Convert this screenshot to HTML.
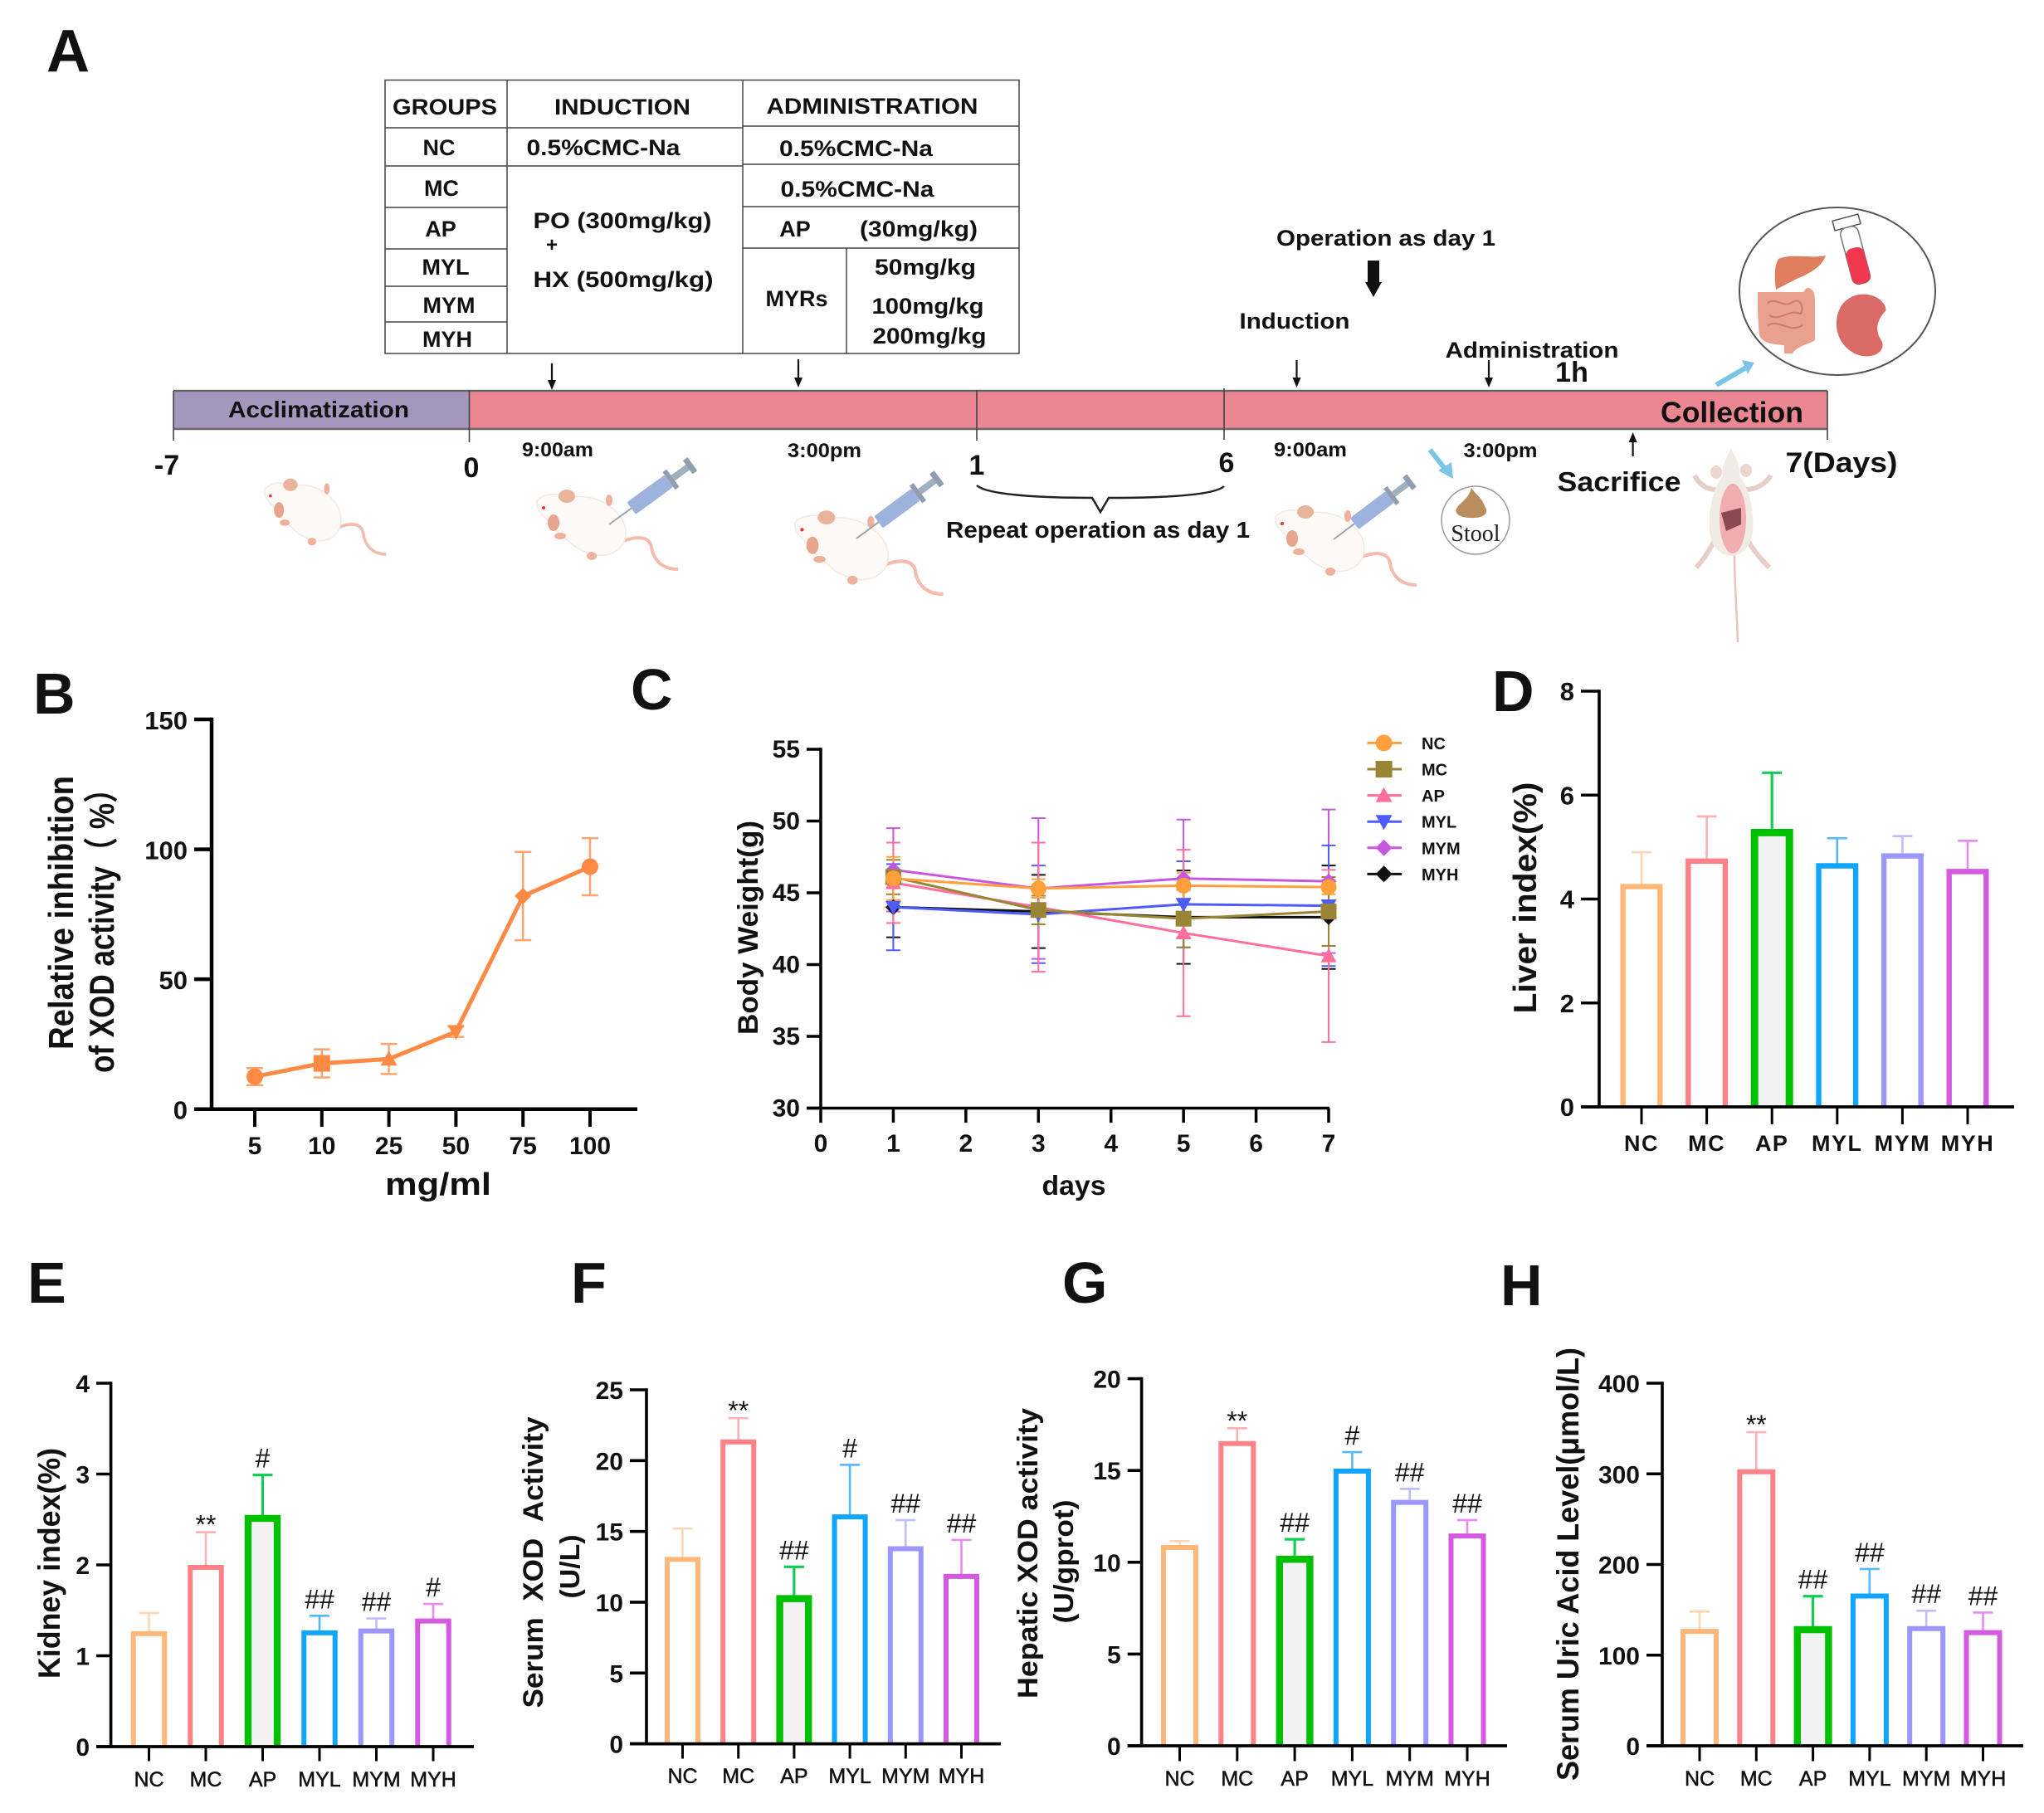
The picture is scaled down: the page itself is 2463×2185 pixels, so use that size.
<!DOCTYPE html>
<html lang="en">
<head>
<meta charset="utf-8">
<title>XOD inhibition study figure</title>
<style>
html,body{margin:0;padding:0;background:#fff;}
svg{display:block;font-family:"Liberation Sans","Noto Sans CJK SC",sans-serif;}
.b{font-weight:700;fill:#111;}
.m{text-anchor:middle;}
</style>
</head>
<body>
<svg id="figure" xmlns="http://www.w3.org/2000/svg" width="2463" height="2185" viewBox="0 0 2463 2185">
<rect width="2463" height="2185" fill="#fff"/>
<defs>
<g id="mouse-shape">
<path d="M104,48 C120,42 135,42 138,55 C140,70 150,82 170,82" fill="none" stroke="#f4bcae" stroke-width="4"/>
<path d="M0,0 C8,-10 25,-10 40,-5 C60,-8 85,-2 100,18 C112,35 108,55 90,63 C72,70 50,60 38,48 C25,40 18,28 12,22 C5,15 -2,8 0,0 Z" fill="#fdf9f6" stroke="#f3e9e3" stroke-width="1.5"/>
<ellipse cx="36" cy="-6" rx="10" ry="8" fill="#eab39b"/>
<ellipse cx="20" cy="26" rx="7" ry="10" fill="#e8a58e"/>
<ellipse cx="87" cy="-1" rx="4" ry="7" fill="#efb09c"/>
<ellipse cx="28" cy="42" rx="7" ry="4" fill="#efb09c"/>
<ellipse cx="66" cy="66" rx="6" ry="5" fill="#efb09c"/>
<circle cx="8" cy="8" r="2" fill="#e33"/>
</g>
<g id="syringe-shape">
<line x1="0" y1="0" x2="34" y2="0" stroke="#9aa4ad" stroke-width="2"/>
<rect x="33" y="-9" width="56" height="18" rx="2" fill="#9db2dd"/>
<rect x="89" y="-13" width="6" height="26" fill="#8f9fb0"/>
<rect x="95" y="-4" width="24" height="8" fill="#a2afbd"/>
<rect x="117" y="-10" width="7" height="20" fill="#8f9fb0"/>
</g>
</defs>

<!-- panel letters -->
<text class="b" x="56" y="86" font-size="72">A</text>
<text class="b" x="40" y="860" font-size="70">B</text>
<text class="b" x="760" y="855" font-size="70">C</text>
<text class="b" x="1798" y="857" font-size="70">D</text>
<text class="b" x="33" y="1570" font-size="70">E</text>
<text class="b" x="688" y="1570" font-size="70">F</text>
<text class="b" x="1280" y="1570" font-size="70">G</text>
<text class="b" x="1808" y="1573" font-size="70">H</text>

<!-- panel A: table -->
<g stroke="#444" stroke-width="1.5" fill="none">
<rect x="464" y="96.5" width="764" height="329.5"/>
<line x1="611" y1="96.5" x2="611" y2="426"/>
<line x1="895" y1="96.5" x2="895" y2="426"/>
<line x1="1020" y1="299" x2="1020" y2="426"/>
<line x1="464" y1="154" x2="895" y2="154"/>
<line x1="895" y1="152" x2="1228" y2="152"/>
<line x1="464" y1="200" x2="895" y2="200"/>
<line x1="895" y1="198" x2="1228" y2="198"/>
<line x1="464" y1="250" x2="611" y2="250"/>
<line x1="464" y1="300" x2="611" y2="300"/>
<line x1="464" y1="345" x2="611" y2="345"/>
<line x1="464" y1="388" x2="611" y2="388"/>
<line x1="895" y1="249" x2="1228" y2="249"/>
<line x1="895" y1="299" x2="1228" y2="299"/>
</g>
<g class="b" font-size="27" text-anchor="middle">
<text x="536" y="138" textLength="126" lengthAdjust="spacingAndGlyphs">GROUPS</text>
<text x="750" y="138" textLength="164" lengthAdjust="spacingAndGlyphs">INDUCTION</text>
<text x="1051" y="137" textLength="255" lengthAdjust="spacingAndGlyphs">ADMINISTRATION</text>
<text x="529" y="187">NC</text>
<text x="532" y="236">MC</text>
<text x="531" y="285">AP</text>
<text x="537" y="331">MYL</text>
<text x="541" y="377">MYM</text>
<text x="539" y="418">MYH</text>
<text x="727" y="187" textLength="185" lengthAdjust="spacingAndGlyphs">0.5%CMC-Na</text>
<text x="1031.5" y="188" textLength="185" lengthAdjust="spacingAndGlyphs">0.5%CMC-Na</text>
<text x="1033" y="237" textLength="185" lengthAdjust="spacingAndGlyphs">0.5%CMC-Na</text>
<text x="750" y="275" textLength="215" lengthAdjust="spacingAndGlyphs">PO  (300mg/kg)</text>
<text x="665" y="303" font-size="24">+</text>
<text x="751" y="346" textLength="217" lengthAdjust="spacingAndGlyphs">HX  (500mg/kg)</text>
<text x="958" y="285">AP</text>
<text x="1107" y="285" textLength="142" lengthAdjust="spacingAndGlyphs">(30mg/kg)</text>
<text x="960" y="369">MYRs</text>
<text x="1115" y="331" textLength="122" lengthAdjust="spacingAndGlyphs">50mg/kg</text>
<text x="1118" y="378" textLength="135" lengthAdjust="spacingAndGlyphs">100mg/kg</text>
<text x="1120" y="414" textLength="137" lengthAdjust="spacingAndGlyphs">200mg/kg</text>
</g>

<!-- panel A: timeline -->
<g>
<rect x="209" y="471" width="356.5" height="46" fill="#a596bd"/>
<rect x="565.5" y="471" width="1636.5" height="46" fill="#ea8792"/>
<path d="M209,471 H2202 M209,517 H2202" stroke="#666" stroke-width="2.5" fill="none"/>
<path d="M209,471 V531 M565.5,471 V533 M1177,470 V531 M1475,468 V530 M2202,471 V530" stroke="#444" stroke-width="1.6" fill="none"/>
</g>
<g class="b" font-size="28" text-anchor="middle">
<text x="384" y="503" textLength="218" lengthAdjust="spacingAndGlyphs">Acclimatization</text>
<text x="2087" y="509" font-size="35" textLength="172" lengthAdjust="spacingAndGlyphs">Collection</text>
<text x="201" y="572" font-size="34">-7</text>
<text x="568" y="575" font-size="34">0</text>
<text x="1177" y="572" font-size="34">1</text>
<text x="1478" y="569" font-size="34">6</text>
<text x="2219" y="569" font-size="34" textLength="135" lengthAdjust="spacingAndGlyphs">7(Days)</text>
<text x="672" y="550" font-size="24" textLength="86" lengthAdjust="spacingAndGlyphs">9:00am</text>
<text x="993.5" y="551" font-size="24" textLength="89" lengthAdjust="spacingAndGlyphs">3:00pm</text>
<text x="1579" y="550" font-size="24" textLength="88" lengthAdjust="spacingAndGlyphs">9:00am</text>
<text x="1808" y="551" font-size="24" textLength="89" lengthAdjust="spacingAndGlyphs">3:00pm</text>
<text x="1323" y="648" font-size="28" textLength="366" lengthAdjust="spacingAndGlyphs">Repeat operation as day 1</text>
<text x="1670" y="296" font-size="27" textLength="264" lengthAdjust="spacingAndGlyphs">Operation as day 1</text>
<text x="1560" y="396" font-size="27" textLength="133" lengthAdjust="spacingAndGlyphs">Induction</text>
<text x="1846" y="431" font-size="27" textLength="209" lengthAdjust="spacingAndGlyphs">Administration</text>
<text x="1894" y="460" font-size="34">1h</text>
<text x="1951" y="592" font-size="33" textLength="149" lengthAdjust="spacingAndGlyphs">Sacrifice</text>
</g>
<path d="M1177,585 C1190,597 1260,600 1316,600 L1326,617 L1336,600 C1390,600 1462,598 1475,586" fill="none" stroke="#222" stroke-width="2.5"/>
<g stroke="#111" stroke-width="2.2" fill="#111">
<line x1="665" y1="438" x2="665" y2="462"/><polygon points="660,458 670,458 665,470" stroke="none"/>
<line x1="962" y1="433" x2="962" y2="459"/><polygon points="957,455 967,455 962,467" stroke="none"/>
<line x1="1562.5" y1="434" x2="1562.5" y2="459"/><polygon points="1557.5,455 1567.5,455 1562.5,467" stroke="none"/>
<line x1="1794" y1="434" x2="1794" y2="459"/><polygon points="1789,455 1799,455 1794,467" stroke="none"/>
<line x1="1967.6" y1="530" x2="1967.6" y2="550"/><polygon points="1962.6,533 1972.6,533 1967.6,521" stroke="none"/>
<polygon points="1648,314 1662,314 1662,340 1665,340 1655,358 1645,340 1648,340" stroke="none"/>
</g>
<g stroke="#7cc5e6" stroke-width="6" fill="#7cc5e6">
<line x1="1723" y1="542" x2="1742" y2="566"/><polygon points="1733,567 1749,557 1751,577" stroke="none"/>
<line x1="2068" y1="464" x2="2104" y2="443"/><polygon points="2099,434 2114,437 2106,451" stroke="none"/>
</g>

<!-- panel A: illustrations -->
<use href="#mouse-shape" transform="translate(319,590) scale(.86,.95)"/>
<use href="#mouse-shape" transform="translate(647,604)"/>
<use href="#syringe-shape" transform="translate(734,632) rotate(-36)"/>
<use href="#mouse-shape" transform="translate(958,630) scale(1.05)"/>
<use href="#syringe-shape" transform="translate(1032,649) rotate(-36.5)"/>
<use href="#mouse-shape" transform="translate(1537,623)"/>
<use href="#syringe-shape" transform="translate(1607,650) rotate(-37) scale(.95)"/>
<g>
<circle cx="1778" cy="627" r="41" fill="#fff" stroke="#999" stroke-width="1.5"/>
<path d="M1773,588 C1778,596 1786,600 1789,610 C1796,620 1785,625 1772,624 C1758,624 1750,618 1757,610 C1762,604 1770,600 1773,588 Z" fill="#bb8d5e"/>
<text x="1778" y="652" font-size="28" text-anchor="middle" fill="#222" style="font-family:'Liberation Serif',serif">Stool</text>
</g>
<g>
<path d="M2090,668 C2090,700 2093,740 2094,774" fill="none" stroke="#e8c4bc" stroke-width="2.5"/>
<path d="M2068,648 C2060,662 2055,672 2044,684 M2104,648 C2112,662 2120,672 2132,684 M2068,590 C2058,590 2048,585 2042,573 M2104,590 C2114,590 2126,585 2134,573" stroke="#e6cfc8" stroke-width="6" fill="none"/>
<path d="M2086,541 C2092,552 2098,562 2096,574 C2106,585 2114,610 2112,640 C2110,660 2098,670 2086,670 C2074,670 2062,660 2060,640 C2058,610 2066,585 2076,574 C2074,562 2080,552 2086,541 Z" fill="#f1ebe6"/>
<ellipse cx="2068" cy="569" rx="7" ry="8" fill="#eed5d0"/><ellipse cx="2104" cy="567" rx="7" ry="8" fill="#eed5d0"/>
<ellipse cx="2088" cy="625" rx="16" ry="42" fill="#f2adb0"/>
<path d="M2074,618 L2098,612 L2098,632 L2080,640 Z" fill="#8a4a52"/>
</g>
<g>
<ellipse cx="2214" cy="351" rx="118" ry="101" fill="#fff" stroke="#555" stroke-width="2"/>
<path d="M2143,312 C2160,305 2185,312 2200,308 C2195,322 2180,330 2165,336 L2140,349 C2138,335 2138,320 2143,312 Z" fill="#df7d5c"/>
<g transform="translate(2225,268) rotate(-15)">
<rect x="-16" y="-6" width="32" height="12" fill="#fff" stroke="#555" stroke-width="1.5"/>
<rect x="-11" y="6" width="22" height="70" rx="8" fill="#fff" stroke="#777" stroke-width="1.5"/>
<rect x="-11" y="32" width="22" height="44" rx="8" fill="#f2384f"/>
</g>
<path d="M2118,352 H2170 C2178,352 2172,347 2180,347 C2188,350 2187,360 2187,375 V410 C2180,415 2165,417 2160,426 H2150 V416 C2140,415 2124,415 2120,404 C2118,385 2118,370 2118,352 Z" fill="#e9a08e"/>
<path d="M2130,365 C2140,358 2150,372 2160,364 C2170,358 2174,372 2170,378 C2155,372 2145,388 2132,380 M2130,392 C2145,384 2155,402 2172,392" fill="none" stroke="#cf7a68" stroke-width="2"/>
<path d="M2240,355 C2262,352 2275,368 2272,375 C2262,385 2258,398 2268,412 C2272,425 2255,433 2240,428 C2222,422 2212,405 2213,388 C2214,370 2224,358 2240,355 Z" fill="#d96a66"/>
</g>

<!-- axis titles -->
<g class="b" text-anchor="middle">
<text transform="translate(88,1100) rotate(-90)" font-size="42" textLength="330" lengthAdjust="spacingAndGlyphs">Relative inhibition</text>
<text transform="translate(137,1113) rotate(-90)" font-size="42" textLength="360" lengthAdjust="spacingAndGlyphs">of XOD activity（ %）</text>
<text x="528" y="1440" font-size="38" textLength="128" lengthAdjust="spacingAndGlyphs">mg/ml</text>
<text transform="translate(913,1118) rotate(-90)" font-size="34" textLength="258" lengthAdjust="spacingAndGlyphs">Body Weight(g)</text>
<text x="1294" y="1440" font-size="33" textLength="77" lengthAdjust="spacingAndGlyphs">days</text>
<text transform="translate(1851,1082) rotate(-90)" font-size="39" textLength="279" lengthAdjust="spacingAndGlyphs">Liver index(%)</text>
<text transform="translate(72,1884) rotate(-90)" font-size="37" textLength="278" lengthAdjust="spacingAndGlyphs">Kidney index(%)</text>
<text transform="translate(654,1883) rotate(-90)" font-size="34" textLength="351" lengthAdjust="spacingAndGlyphs">Serum&#160;&#160;XOD&#160;&#160;Activity</text>
<text transform="translate(698,1888) rotate(-90)" font-size="33" textLength="77" lengthAdjust="spacingAndGlyphs">(U/L)</text>
<text transform="translate(1250,1872) rotate(-90)" font-size="34" textLength="350" lengthAdjust="spacingAndGlyphs">Hepatic XOD activity</text>
<text transform="translate(1293,1882) rotate(-90)" font-size="33" textLength="149" lengthAdjust="spacingAndGlyphs">(U/gprot)</text>
<text transform="translate(1902,1885) rotate(-90)" font-size="37" textLength="522" lengthAdjust="spacingAndGlyphs">Serum Uric Acid Level(μmol/L)</text>
</g>

<g id="charts"></g>
</svg>

<script>
// Panel B data
const inhibitionDoses = ['5', '10', '25', '50', '75', '100'];
const inhibitionValues = [12.5, 17.6, 19.3, 29.8, 82, 93.3];
const inhibitionErrors = [3.3, 5.4, 5.8, 2, 17, 11];
const inhibitionYTicks = [0, 50, 100, 150];

// Panel C data
const weightDays = [1, 3, 5, 7];
const weightXTicks = [0, 1, 2, 3, 4, 5, 6, 7];
const weightYTicks = [30, 35, 40, 45, 50, 55];
const weightGroups = ['NC', 'MC', 'AP', 'MYL', 'MYM', 'MYH'];
const weightNC = [46.0, 45.3, 45.5, 45.4];
const weightMC = [46.1, 43.8, 43.2, 43.7];
const weightAP = [45.7, 44.0, 42.2, 40.6];
const weightMYL = [44.0, 43.5, 44.2, 44.1];
const weightMYM = [46.6, 45.3, 46.0, 45.8];
const weightMYH = [44.0, 43.7, 43.3, 43.3];
const weightErrNC = [1.5, 0.65, 0.9, 0.5];
const weightErrMC = [1.2, 1.0, 2.0, 2.4];
const weightErrAP = [2.8, 4.5, 5.8, 6.0];
const weightErrMYL = [3.0, 3.4, 3.0, 4.2];
const weightErrMYM = [2.9, 4.9, 4.1, 5.0];
const weightErrMYH = [2.1, 2.55, 3.25, 3.6];

// Bar panel data
const barGroups = ['NC', 'MC', 'AP', 'MYL', 'MYM', 'MYH'];
const liverValues = [4.29, 4.78, 5.35, 4.69, 4.88, 4.58];
const liverErrors = [0.61, 0.81, 1.08, 0.48, 0.33, 0.54];
const liverYTicks = [0, 2, 4, 6, 8];
const liverMarks = ['', '', '', '', '', ''];
const kidneyValues = [1.27, 2.0, 2.55, 1.28, 1.30, 1.41];
const kidneyErrors = [0.20, 0.36, 0.44, 0.16, 0.11, 0.16];
const kidneyYTicks = [0, 1, 2, 3, 4];
const kidneyMarks = ['', '**', '#', '##', '##', '#'];
const serumXodValues = [13.2, 21.5, 10.5, 16.2, 13.95, 12.0];
const serumXodErrors = [2.0, 1.5, 2.0, 3.5, 1.85, 2.4];
const serumXodYTicks = [0, 5, 10, 15, 20, 25];
const serumXodMarks = ['', '**', '##', '#', '##', '##'];
const hepaticValues = [10.94, 16.6, 10.35, 15.1, 13.4, 11.57];
const hepaticErrors = [0.21, 0.7, 0.9, 0.9, 0.6, 0.73];
const hepaticYTicks = [0, 5, 10, 15, 20];
const hepaticMarks = ['', '**', '##', '#', '##', '##'];
const uricValues = [129, 305, 132, 168, 132, 127.6];
const uricErrors = [19, 41, 33, 27, 17, 19.4];
const uricYTicks = [0, 100, 200, 300, 400];
const uricMarks = ['', '**', '##', '##', '##', '##'];

const barColors = ['#ffb87a', '#ff8288', '#00c000', '#10a5ff', '#9b97ff', '#d45ae0'];
const barErrColors = ['#ffd6b4', '#ffb0b4', '#14cc55', '#55b8ff', '#c0bdff', '#e88af0'];

const SVGNS = 'http://www.w3.org/2000/svg';
const chartsRoot = document.getElementById('charts');

function svgEl(parent, tag, attrs) {
  const el = document.createElementNS(SVGNS, tag);
  for (const k in attrs) el.setAttribute(k, attrs[k]);
  parent.appendChild(el);
  return el;
}
function linear(d0, d1, r0, r1) {
  return v => r0 + (v - d0) * (r1 - r0) / (d1 - d0);
}
function marker(parent, shape, x, y, r, color) {
  let el;
  if (shape === 'circle') {
    el = svgEl(parent, 'circle', { cx: x, cy: y, r: r, fill: color });
  } else if (shape === 'square') {
    el = svgEl(parent, 'rect', { x: x - r, y: y - r, width: 2 * r, height: 2 * r, fill: color });
  } else if (shape === 'up') {
    el = svgEl(parent, 'polygon', { points: `${x - r},${y + r * .8} ${x + r},${y + r * .8} ${x},${y - r}`, fill: color });
  } else if (shape === 'down') {
    el = svgEl(parent, 'polygon', { points: `${x - r},${y - r * .8} ${x + r},${y - r * .8} ${x},${y + r}`, fill: color });
  } else {
    el = svgEl(parent, 'polygon', { points: `${x - r},${y} ${x},${y - r} ${x + r},${y} ${x},${y + r}`, fill: color });
  }
  
  
  return el;
}
function errorBar(parent, x, y0, y1, cap, color, width) {
  const g = svgEl(parent, 'path', {
    d: `M${x},${y0} V${y1} M${x - cap / 2},${y1} H${x + cap / 2}`,
    stroke: color, 'stroke-width': width, fill: 'none'
  });
  
  
  return g;
}
function drawYAxis(g, ticks, sy, axisX, tickLeft, baseY, size, width, dy) {
  const axis = svgEl(g, 'line', { x1: axisX, y1: sy(ticks[ticks.length - 1]) - width / 2, x2: axisX, y2: baseY + width / 2, stroke: '#000', 'stroke-width': width });
  
  
  ticks.forEach(t => {
    const tick = svgEl(g, 'line', { x1: tickLeft, y1: sy(t), x2: axisX, y2: sy(t), stroke: '#000', 'stroke-width': width });
    
    
    const lab = svgEl(g, 'text', { x: tickLeft - 8, y: sy(t) + dy, 'text-anchor': 'end', 'font-size': size, 'font-weight': 700, fill: '#111' });
    lab.textContent = t;
    
    
  });
}

function drawInhibition() {
  const g = svgEl(chartsRoot, 'g', {});
  
  
  const sy = linear(0, 150, 1336.7, 867);
  const sx = i => 307 + i * 80.8;
  const color = '#ff8a45';
  drawYAxis(g, inhibitionYTicks, sy, 255, 234, 1336.7, 31, 4.5, 12);
  const xAxis = svgEl(g, 'line', { x1: 234, y1: 1336.7, x2: 768, y2: 1336.7, stroke: '#000', 'stroke-width': 4.5 });
  
  
  inhibitionDoses.forEach((d, i) => {
    const tick = svgEl(g, 'line', { x1: sx(i), y1: 1336.7, x2: sx(i), y2: 1358, stroke: '#000', 'stroke-width': 4 });
    
    
    const lab = svgEl(g, 'text', { x: sx(i), y: 1391, 'text-anchor': 'middle', 'font-size': 30, 'font-weight': 700, fill: '#111' });
    lab.textContent = d;
    
    
  });
  inhibitionValues.forEach((v, i) => {
    errorBar(g, sx(i), sy(v - inhibitionErrors[i]), sy(v + inhibitionErrors[i]), 20, '#ffa46e', 2.5);
    const low = svgEl(g, 'line', { x1: sx(i) - 10, x2: sx(i) + 10, y1: sy(v - inhibitionErrors[i]), y2: sy(v - inhibitionErrors[i]), stroke: '#ffa46e', 'stroke-width': 2.5 });
    
    
  });
  const line = svgEl(g, 'polyline', {
    points: inhibitionValues.map((v, i) => sx(i) + ',' + sy(v)).join(' '),
    fill: 'none', stroke: color, 'stroke-width': 5
  });
  
  
  const shapes = ['circle', 'square', 'up', 'down', 'diamond', 'circle'];
  inhibitionValues.forEach((v, i) => marker(g, shapes[i], sx(i), sy(v), 10, color));
}

function drawWeight() {
  const g = svgEl(chartsRoot, 'g', {});
  
  
  const sy = linear(30, 55, 1335.5, 903);
  const sx = linear(0, 7, 989, 1601);
  drawYAxis(g, weightYTicks, sy, 989, 972, 1335.5, 30, 3.5, 10);
  const xAxis = svgEl(g, 'line', { x1: 972, y1: 1335.5, x2: 1602, y2: 1335.5, stroke: '#000', 'stroke-width': 3.5 });
  
  
  weightXTicks.forEach(t => {
    const tick = svgEl(g, 'line', { x1: sx(t), y1: 1335.5, x2: sx(t), y2: 1353, stroke: '#000', 'stroke-width': 3.5 });
    
    
    const lab = svgEl(g, 'text', { x: sx(t), y: 1388, 'text-anchor': 'middle', 'font-size': 30, 'font-weight': 700, fill: '#111' });
    lab.textContent = t;
    
    
  });
  const series = [weightNC, weightMC, weightAP, weightMYL, weightMYM, weightMYH];
  const errs = [weightErrNC, weightErrMC, weightErrAP, weightErrMYL, weightErrMYM, weightErrMYH];
  const colors = ['#ffa03c', '#9a8535', '#ff6f9c', '#4f5bff', '#c857e0', '#111111'];
  const shapes = ['circle', 'square', 'up', 'down', 'diamond', 'diamond'];
  for (let s = series.length - 1; s >= 0; s--) {
    series[s].forEach((v, i) => {
      const x = sx(weightDays[i]);
      errorBar(g, x, sy(v - errs[s][i]), sy(v + errs[s][i]), 17, colors[s], 2);
      const low = svgEl(g, 'line', { x1: x - 8.5, x2: x + 8.5, y1: sy(v - errs[s][i]), y2: sy(v - errs[s][i]), stroke: colors[s], 'stroke-width': 2 });
      
      
    });
  }
  for (let s = series.length - 1; s >= 0; s--) {
    const line = svgEl(g, 'polyline', {
      points: series[s].map((v, i) => sx(weightDays[i]) + ',' + sy(v)).join(' '),
      fill: 'none', stroke: colors[s], 'stroke-width': 3
    });
    
    
    series[s].forEach((v, i) => marker(g, shapes[s], sx(weightDays[i]), sy(v), 9.5, colors[s]));
  }
  const legendTop = 895.4, legendStep = 31.6;
  weightGroups.forEach((name, i) => {
    const y = legendTop + i * legendStep;
    const row = svgEl(g, 'g', {});
    
    
    svgEl(row, 'line', { x1: 1647.5, x2: 1689, y1: y, y2: y, stroke: colors[i], 'stroke-width': 3 });
    marker(row, shapes[i], 1667.6, y, 10, colors[i]);
    const lab = svgEl(row, 'text', { x: 1713, y: y + 7.5, 'font-size': 20, 'font-weight': 700, fill: '#111' });
    lab.textContent = name;
  });
}

function drawBarPanel(panelName, cfg, values, errors, ticks, marks) {
  const g = svgEl(chartsRoot, 'g', {});
  
  
  const sy = linear(ticks[0], ticks[ticks.length - 1], cfg.base, cfg.top);
  const sx = i => cfg.first + i * cfg.step;
  values.forEach((v, i) => {
    const sw = i === 2 ? cfg.stroke * 1.4 : cfg.stroke;
    const top = sy(v) + sw / 2;
    errorBar(g, sx(i), top, sy(v + errors[i]), 24, barErrColors[i], i === 2 ? 3.2 : 2.6);
    const bar = svgEl(g, 'path', {
      d: `M${sx(i) - cfg.width / 2 + sw / 2},${cfg.base} V${top} H${sx(i) + cfg.width / 2 - sw / 2} V${cfg.base}`,
      fill: i === 2 ? '#f2f2f2' : '#fff', stroke: barColors[i], 'stroke-width': sw
    });
    
    
    if (marks[i]) {
      const isStar = marks[i].charAt(0) === '*';
      const mark = svgEl(g, 'text', {
        x: sx(i), y: sy(v + errors[i]) + (isStar ? 2 : -9),
        'text-anchor': 'middle', 'font-size': 32, fill: '#111'
      });
      mark.textContent = marks[i];
      
      
    }
  });
  drawYAxis(g, ticks, sy, cfg.axisX, cfg.tickLeft, cfg.base, cfg.yFont, 3.6, 11);
  const xAxis = svgEl(g, 'line', { x1: cfg.tickLeft, y1: cfg.base, x2: cfg.right, y2: cfg.base, stroke: '#000', 'stroke-width': 3.8 });
  
  
  barGroups.forEach((name, i) => {
    const tick = svgEl(g, 'line', { x1: sx(i), y1: cfg.base, x2: sx(i), y2: cfg.tickBottom, stroke: '#000', 'stroke-width': 3 });
    
    
    const lab = svgEl(g, 'text', {
      x: sx(i), y: cfg.labelY, 'text-anchor': 'middle', 'font-size': cfg.xFont,
      'font-weight': cfg.xBold ? 700 : 400, fill: '#111',
      stroke: cfg.xBold ? 'none' : '#111', 'stroke-width': cfg.xBold ? 0 : .5,
      'letter-spacing': cfg.xBold ? 1.5 : 0
    });
    lab.textContent = name;
    
    
  });
}

drawInhibition();
drawWeight();
drawBarPanel('panel-d-liver-index-chart',
  { axisX: 1927, tickLeft: 1905, right: 2427, top: 833, base: 1334, first: 1978, step: 78.6, width: 51, stroke: 6.4, tickBottom: 1355, labelY: 1387, xFont: 27, xBold: true, yFont: 31 },
  liverValues, liverErrors, liverYTicks, liverMarks);
drawBarPanel('panel-e-kidney-index-chart',
  { axisX: 133.6, tickLeft: 116, right: 571, top: 1667, base: 2105, first: 179.5, step: 68.5, width: 43.5, stroke: 6, tickBottom: 2122.5, labelY: 2153, xFont: 25, yFont: 30 },
  kidneyValues, kidneyErrors, kidneyYTicks, kidneyMarks);
drawBarPanel('panel-f-serum-xod-chart',
  { axisX: 779, tickLeft: 759, right: 1206, top: 1675, base: 2101.6, first: 822.5, step: 67.2, width: 43, stroke: 6, tickBottom: 2119.5, labelY: 2149, xFont: 25, yFont: 30 },
  serumXodValues, serumXodErrors, serumXodYTicks, serumXodMarks);
drawBarPanel('panel-g-hepatic-xod-chart',
  { axisX: 1375.6, tickLeft: 1358.7, right: 1816, top: 1661.6, base: 2104, first: 1421.5, step: 69.3, width: 45, stroke: 6, tickBottom: 2122.5, labelY: 2152, xFont: 25, yFont: 30 },
  hepaticValues, hepaticErrors, hepaticYTicks, hepaticMarks);
drawBarPanel('panel-h-uric-acid-chart',
  { axisX: 2003, tickLeft: 1984, right: 2438, top: 1667, base: 2104, first: 2048, step: 68.3, width: 46, stroke: 6, tickBottom: 2122.5, labelY: 2152, xFont: 25, yFont: 30 },
  uricValues, uricErrors, uricYTicks, uricMarks);
</script>
</body>
</html>
